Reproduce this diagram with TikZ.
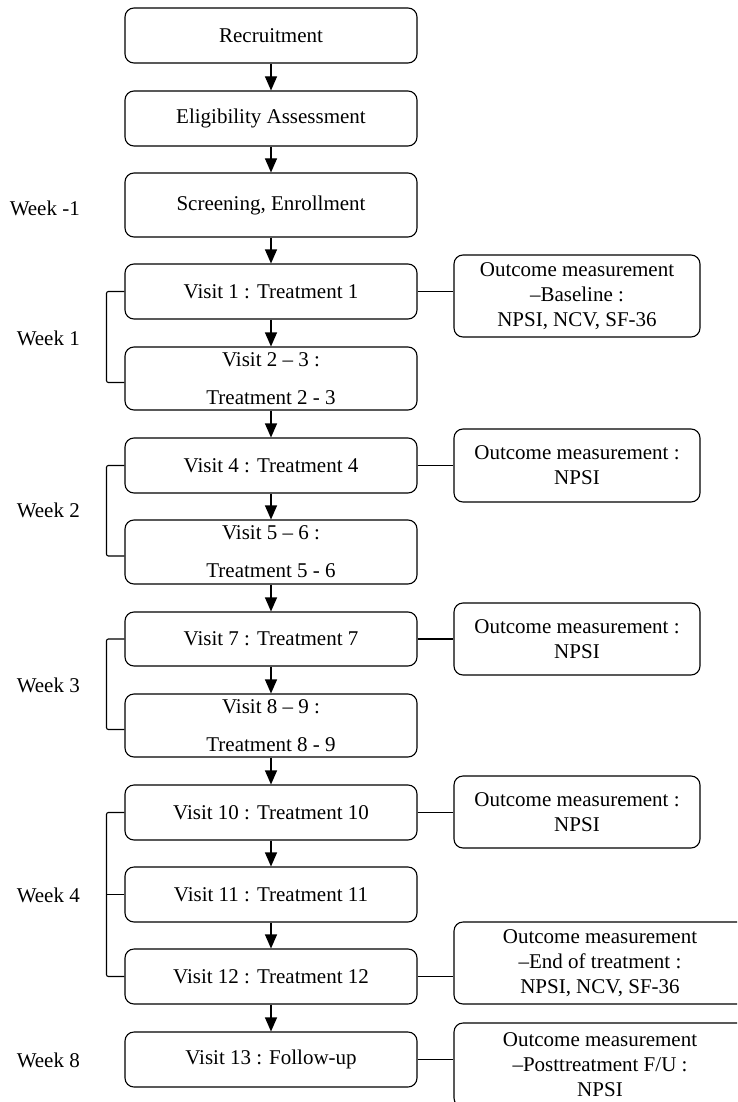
\documentclass[tikz,border=0pt]{standalone}
\usepackage{fontspec}
\setmainfont{Liberation Serif}
\usetikzlibrary{arrows.meta}
\begin{document}
\begin{tikzpicture}[x=1pt,y=-1pt,
  box/.style={draw, line width=1.1pt, rounded corners=9pt, minimum width=292pt, align=center, font=\fontsize{21}{25}\selectfont, inner sep=0pt},
  obox/.style={box, minimum width=246pt},
  flow/.style={-{Triangle[width=12pt,length=14pt]}, line width=1.1pt},
  link/.style={line width=1.1pt},
  bracket/.style={line width=1.1pt, rounded corners=2pt},
  wk/.style={anchor=east, font=\fontsize{21}{25}\selectfont, inner sep=0pt}]
\useasboundingbox (0,0) rectangle (737,1102);
\clip (0,0) rectangle (737,1102);
% main column
\node[box, minimum height=55pt] (rec) at (271,35.5) {Recruitment};
\node[box, minimum height=55pt] (elig) at (271,118.5) {Eligibility Assessment};
\node[box, minimum height=64pt] (scr) at (271,205) {Screening, Enrollment};
\node[box, minimum height=55pt] (v1) at (271,291.5) {Visit 1 : Treatment 1};
\node[box, minimum height=63pt] (v23) at (271,378.5) {Visit 2 – 3 :\\[13pt]Treatment 2 - 3};
\node[box, minimum height=55pt] (v4) at (271,465.5) {Visit 4 : Treatment 4};
\node[box, minimum height=64pt] (v56) at (271,552) {Visit 5 – 6 :\\[13pt]Treatment 5 - 6};
\node[box, minimum height=54pt] (v7) at (271,639) {Visit 7 : Treatment 7};
\node[box, minimum height=63pt] (v89) at (271,725.5) {Visit 8 – 9 :\\[13pt]Treatment 8 - 9};
\node[box, minimum height=55pt] (v10) at (271,812.5) {Visit 10 : Treatment 10};
\node[box, minimum height=55pt] (v11) at (271,894.5) {Visit 11 : Treatment 11};
\node[box, minimum height=55pt] (v12) at (271,976.5) {Visit 12 : Treatment 12};
\node[box, minimum height=55pt] (v13) at (271,1059.5) {Visit 13 : Follow-up};
% outcome boxes
\node[obox, minimum height=82pt] (o1) at (577,296) {Outcome measurement\\–Baseline :\\NPSI, NCV, SF-36};
\node[obox, minimum height=73pt] (o4) at (577,465.5) {Outcome measurement :\\NPSI};
\node[obox, minimum height=72pt] (o7) at (577,639) {Outcome measurement :\\NPSI};
\node[obox, minimum height=72pt] (o10) at (577,812) {Outcome measurement :\\NPSI};
\node[obox, minimum width=292pt, minimum height=82pt] (o12) at (600,963) {Outcome measurement\\–End of treatment :\\NPSI, NCV, SF-36};
\node[obox, minimum width=292pt, minimum height=84pt] (o13) at (600,1065) {Outcome measurement\\–Posttreatment F/U :\\NPSI};
% week labels
\node[wk] (w0) at (80,208) {Week -1};
\node[wk] (w1) at (80,338) {Week 1};
\node[wk] (w2) at (80,510) {Week 2};
\node[wk] (w3) at (80,685) {Week 3};
\node[wk] (w4) at (80,895) {Week 4};
\node[wk] (w8) at (80,1060) {Week 8};
% flow arrows
\draw[flow] (rec) -- (elig);
\draw[flow] (elig) -- (scr);
\draw[flow] (scr) -- (v1);
\draw[flow] (v1) -- (v23);
\draw[flow] (v23) -- (v4);
\draw[flow] (v4) -- (v56);
\draw[flow] (v56) -- (v7);
\draw[flow] (v7) -- (v89);
\draw[flow] (v89) -- (v10);
\draw[flow] (v10) -- (v11);
\draw[flow] (v11) -- (v12);
\draw[flow] (v12) -- (v13);
% links to outcome boxes
\draw[link] (v1.east) -- (v1.east -| o1.west);
\draw[link] (v4.east) -- (v4.east -| o4.west);
\draw[link] (v7.east) -- (v7.east -| o7.west);
\draw[link] (v10.east) -- (v10.east -| o10.west);
\draw[link] (v12.east) -- (v12.east -| o12.west);
\draw[link] (v13.east) -- (v13.east -| o13.west);
% week brackets
\draw[bracket] (v1.west) -- ++(-18,0) |- ([yshift=-4pt]v23.west);
\draw[bracket] (v4.west) -- ++(-18,0) |- ([yshift=-4pt]v56.west);
\draw[bracket] (v7.west) -- ++(-18,0) |- ([yshift=-4pt]v89.west);
\draw[bracket] (v10.west) -- ++(-18,0) |- (v12.west);
\draw[link] (v11.west) -- ++(-18,0);
\end{tikzpicture}
\end{document}
